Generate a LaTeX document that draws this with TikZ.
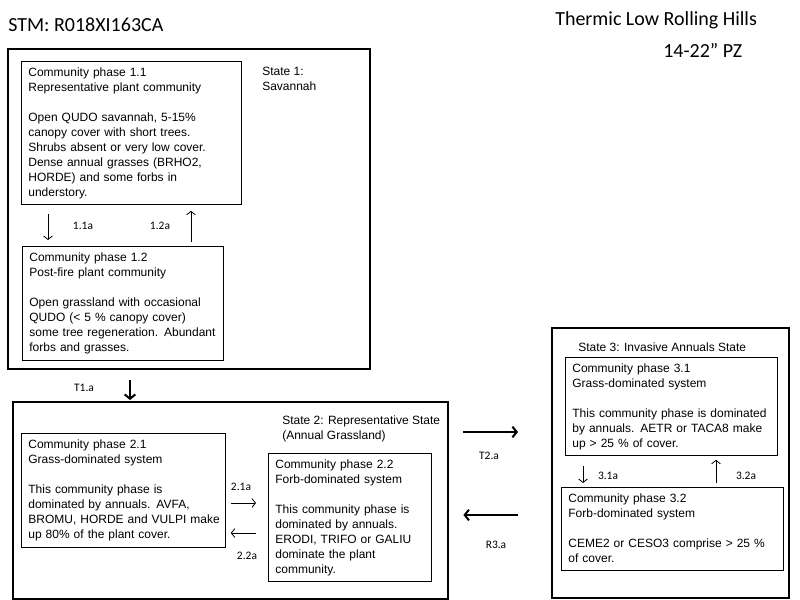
\documentclass[tikz,border=0pt]{standalone}
\usepackage{fontspec}
\setmainfont{Liberation Sans}
\newfontfamily\calibri{Carlito}
\usetikzlibrary{calc,arrows.meta}

\begin{document}
\begin{tikzpicture}[x=0.75pt, y=-0.75pt,
        statebox/.style={draw=black, line width=1.8pt, anchor=north west, inner sep=0pt},
        phasebox/.style={draw=black, line width=0.6pt, anchor=north west, align=left,
            inner xsep=5.25pt, inner ysep=3pt, text height=8.5pt,
            font=\fontsize{9}{11.25}\selectfont},
        statelabel/.style={anchor=north west, align=left, inner sep=0pt,
            font=\fontsize{9}{11.25}\selectfont},
        arrowlabel/.style={inner sep=0pt, font=\calibri\fontsize{8.6}{10}\selectfont},
        titlelabel/.style={anchor=west, inner sep=0pt, font=\calibri\fontsize{15}{18}\selectfont},
        phasearrow/.style={-{Straight Barb[length=2.6pt, width=6.5pt]}, line width=0.6pt},
        statearrow/.style={-{Straight Barb[length=3.2pt, width=8pt]}, line width=1.5pt}]
        \useasboundingbox[fill=white] (0,0) rectangle (800,600);

        % titles
        \node[titlelabel] (stm) at (8,25) {STM: R018XI163CA};
        \node[titlelabel] (site) at (555,20) {Thermic Low Rolling Hills};
        \node[titlelabel] (pz) at (663,50) {14-22” PZ};

        % State 1
        \node[statebox, minimum width=271.5pt, minimum height=240pt] (s1) at (7,48) {};
        \node[statelabel] (s1lab) at (262,67) {State 1:\\Savannah};
        \node[phasebox, text width=154.5pt, text depth=92.75pt] (p11) at (21,61)
            {Community phase 1.1\\Representative plant community\\[11.25pt]
             Open QUDO savannah, 5-15\%\\canopy cover with short trees.\\
             Shrubs absent or very low cover.\\Dense annual grasses (BRHO2,\\
             HORDE) and some forbs in\\understory.};
        \node[phasebox, text width=140.25pt, text depth=71pt] (p12) at (22,246)
            {Community phase 1.2\\Post-fire plant community\\[11.25pt]
             Open grassland with occasional\\QUDO (< 5 \% canopy cover)\\
             \mbox{some tree regeneration. Abundant}\\forbs and grasses.};
        \draw[phasearrow] ($(p11.south west)+(27,9)$) -- ($(p12.north west)+(26,-6)$);
        \draw[phasearrow] ($(p12.north west)+(169,-4)$) -- ($(p11.south west)+(170,6)$);
        \node[arrowlabel] (l11) at (83,226) {1.1a};
        \node[arrowlabel] (l12) at (160,226) {1.2a};

        % State 2
        \node[statebox, minimum width=326.25pt, minimum height=147.75pt] (s2) at (12,401) {};
        \node[statelabel] (s2lab) at (282,416) {State 2: Representative State\\(Annual Grassland)};
        \node[phasebox, text width=142.5pt, text depth=71pt] (p21) at (21,433)
            {Community phase 2.1\\Grass-dominated system\\[11.25pt]
             This community phase is\\dominated by annuals. AVFA,\\
             \mbox{BROMU, HORDE and VULPI make}\\up 80\% of the plant cover.};
        \node[phasebox, text width=111.75pt, text depth=81.5pt] (p22) at (268,453)
            {Community phase 2.2\\Forb-dominated system\\[11.25pt]
             This community phase is\\dominated by annuals.\\
             ERODI, TRIFO or GALIU\\dominate the plant\\community.};
        \draw[phasearrow] ($(p21.north east)+(5,70)$) -- ($(p22.north west)+(-12,50)$);
        \draw[phasearrow] ($(p22.north west)+(-12,80)$) -- ($(p21.north east)+(5,100)$);
        \node[arrowlabel] (l21) at (241,487) {2.1a};
        \node[arrowlabel] (l22) at (247,556) {2.2a};

        % State 3
        \node[statebox, minimum width=177.75pt, minimum height=202.5pt] (s3) at (551,327) {};
        \node[statelabel] (s3lab) at (578,343) {State 3: Invasive Annuals State};
        \node[phasebox, text width=148.5pt, text depth=59pt] (p31) at (565,357)
            {Community phase 3.1\\Grass-dominated system\\[11.25pt]
             \mbox{This community phase is dominated}\\by annuals. AETR or TACA8 make\\
             up > 25 \% of cover.};
        \node[phasebox, text width=156pt, text depth=47.75pt] (p32) at (561,487)
            {Community phase 3.2\\Forb-dominated system\\[11.25pt]
             \mbox{CEME2 or CESO3 comprise > 25 \%}\\of cover.};
        \draw[phasearrow] ($(p31.south west)+(18,10)$) -- ($(p32.north west)+(22,-4)$);
        \draw[phasearrow] ($(p32.north west)+(155,-4)$) -- ($(p31.south west)+(151,4)$);
        \node[arrowlabel] (l31) at (608,476) {3.1a};
        \node[arrowlabel] (l32) at (746,476) {3.2a};

        % transitions between states
        \draw[statearrow] ($(s1.south west)+(123,10)$) -- ($(s2.north west)+(118,-1)$);
        \draw[statearrow] ($(s2.north east)+(14,31)$) -- ($(s3.north west)+(-33,105)$);
        \draw[statearrow] ($(s3.north west)+(-33,188)$) -- ($(s2.north east)+(14,114)$);
        \node[arrowlabel] (t1) at (84,388) {T1.a};
        \node[arrowlabel] (t2) at (489,456) {T2.a};
        \node[arrowlabel] (r3) at (496,545) {R3.a};
\end{tikzpicture}
\end{document}
